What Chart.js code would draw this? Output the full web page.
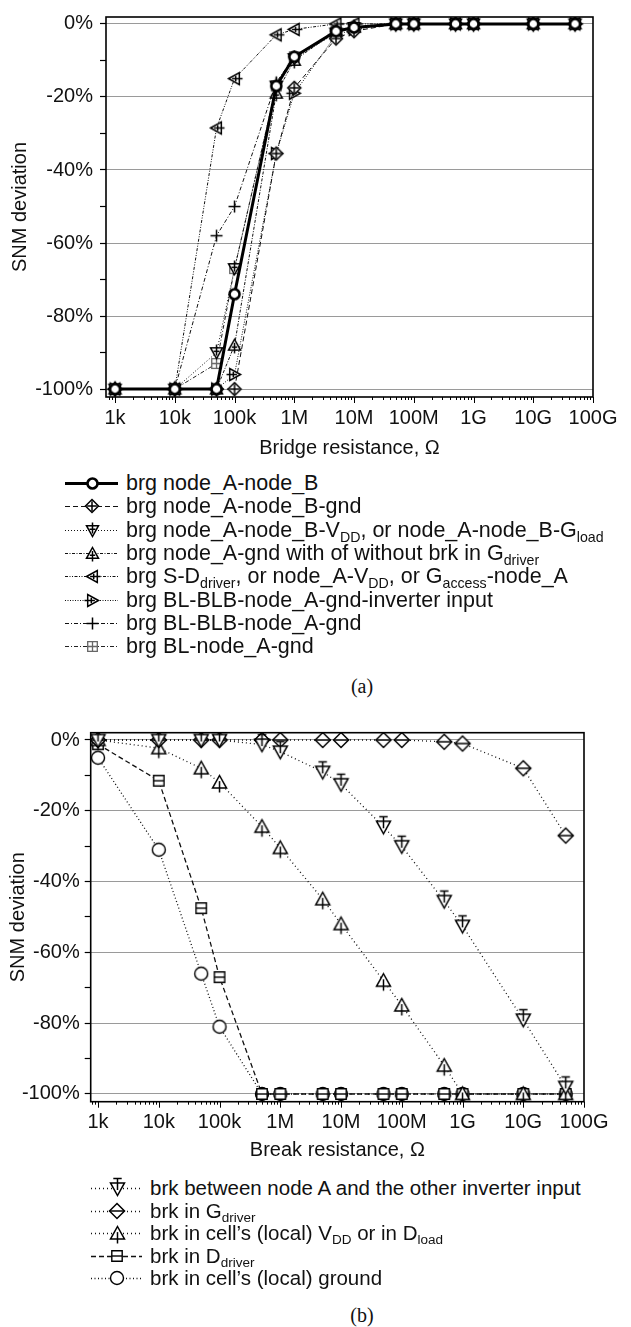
<!DOCTYPE html>
<html>
<head>
<meta charset="utf-8">
<script src="https://cdn.jsdelivr.net/npm/chart.js@4.4.1/dist/chart.umd.min.js"></script>
<style>
  html, body { margin: 0; padding: 0; background: #fff; }
  body { width: 631px; height: 1327px; position: relative; overflow: hidden;
         font-family: "Liberation Sans", Arial, sans-serif; color: #111; }
  .plot { position: absolute; left: 0; }
  .row { position: absolute; height: 24px; white-space: nowrap; }
  .row canvas { position: absolute; left: 0; top: 0; }
  .row span { position: absolute; top: 0; line-height: 24px; }
  .row sub { font-size: 66%; line-height: 0; vertical-align: -0.32em; }
  .cap { position: absolute; font-family: "Liberation Serif", "Times New Roman", serif;
         font-size: 20px; transform: translate(-50%, -50%); }
</style>
</head>
<body>
<div class="plot" style="top:0"><canvas id="bridge" width="631" height="470"></canvas></div>
<div id="legendA"></div>
<div class="cap" style="left:362px; top:686px">(a)</div>
<div class="plot" style="top:700px"><canvas id="brk" width="631" height="470"></canvas></div>
<div id="legendB"></div>
<div class="cap" style="left:362px; top:1315px">(b)</div>

<script>
// ---- resistance values (ohms) ----
const bridgeOhms = [1e3, 1e4, 5e4, 1e5, 5e5, 1e6, 5e6, 1e7, 5e7, 1e8, 5e8, 1e9, 1e10, 5e10];
const breakOhms  = [1e3, 1e4, 5e4, 1e5, 5e5, 1e6, 5e6, 1e7, 5e7, 1e8, 5e8, 1e9, 1e10, 5e10];

// ---- SNM deviation (%) for bridge defects ----
const brgNodeANodeB      = [-100, -100, -100, -74, -17, -9, -2, -1, 0, 0, 0, 0, 0, 0];
const brgNodeANodeBGnd   = [-100, -100, -100, -100, -35.5, -17.5, -4, -2, 0, 0, 0, 0, 0, 0];
const brgNodeANodeBVdd   = [-100, -100, -90, -67, -17, -9.5, -2.5, -1, 0, 0, 0, 0, 0, 0];
const brgNodeAGnd        = [-100, -100, -100, -88, -19, -10, -2, -1, 0, 0, 0, 0, 0, 0];
const brgSDdriver        = [-100, -100, -28.5, -15, -3, -1.5, 0, 0, 0, 0, 0, 0, 0, 0];
const brgBlBlbInvInput   = [-100, -100, -100, -96, -35.5, -19, -3, -1.5, 0, 0, 0, 0, 0, 0];
const brgBlBlbNodeAGnd   = [-100, -100, -58, -50, -16, -9, -2, -1, 0, 0, 0, 0, 0, 0];
const brgBlNodeAGnd      = [-100, -100, -93, -67, -17, -9, -2, -1, 0, 0, 0, 0, 0, 0];

// ---- SNM deviation (%) for break defects ----
const brkInverterInput = [0, 0, 0, 0, -1.3, -3.3, -9, -12.5, -24.5, -30, -45.5, -52.5, -79, -98];
const brkGdriver       = [0, 0, 0, 0, 0, 0, 0, 0, 0, 0, -0.5, -1, -8, -27];
const brkVddDload      = [0, -2.3, -8, -12, -24.5, -30.5, -45, -52, -68, -75, -92, -100, -100, -100];
const brkDdriver       = [-1.2, -11.5, -47.5, -67, -100, -100, -100, -100, -100, -100, -100, -100, -100, -100];
const brkGround        = [-5, -31, -66, -81, -100, -100, -100, -100, -100, -100, -100, -100, -100, -100];

// ---- axis ticks ----
const decadeTicks  = [1e3, 1e4, 1e5, 1e6, 1e7, 1e8, 1e9, 1e10, 1e11];
const decadeLabels = ['1k', '10k', '100k', '1M', '10M', '100M', '1G', '10G', '100G'];
const pctTicks     = [-100, -90, -80, -70, -60, -50, -40, -30, -20, -10, 0];

// ---- series labels ----
const bridgeNames = [
  'brg node_A-node_B',
  'brg node_A-node_B-gnd',
  'brg node_A-node_B-V<sub>DD</sub>, or node_A-node_B-G<sub>load</sub>',
  'brg node_A-gnd with of without brk in G<sub>driver</sub>',
  'brg S-D<sub>driver</sub>, or node_A-V<sub>DD</sub>, or G<sub>access</sub>-node_A',
  'brg BL-BLB-node_A-gnd-inverter input',
  'brg BL-BLB-node_A-gnd',
  'brg BL-node_A-gnd'
];
const breakNames = [
  'brk between node A and the other inverter input',
  'brk in G<sub>driver</sub>',
  'brk in cell\u2019s (local) V<sub>DD</sub> or in D<sub>load</sub>',
  'brk in D<sub>driver</sub>',
  'brk in cell\u2019s (local) ground'
];

const INK = '#000';
Chart.defaults.font.family = '"Liberation Sans", Arial, sans-serif';
Chart.defaults.color = '#111';

// Small canvases used as point symbols.
function marker(shape, size, lw, stroke, inner) {
  const S = Math.ceil(size) + 11;
  const c = document.createElement('canvas');
  c.width = c.height = S;
  const g = c.getContext('2d');
  g.translate(S / 2, S / 2);
  g.lineWidth = lw; g.strokeStyle = stroke; g.fillStyle = '#fff';
  g.lineJoin = 'miter';
  const h = size / 2;
  g.beginPath();
  if (shape === 'circle') g.arc(0, 0, h, 0, Math.PI * 2);
  else if (shape === 'diamond') { g.moveTo(0, -h); g.lineTo(h, 0); g.lineTo(0, h); g.lineTo(-h, 0); g.closePath(); }
  else if (shape === 'triDown') { g.moveTo(-h, -h * 0.8); g.lineTo(h, -h * 0.8); g.lineTo(0, h); g.closePath(); }
  else if (shape === 'triUp') { g.moveTo(0, -h); g.lineTo(h, h * 0.8); g.lineTo(-h, h * 0.8); g.closePath(); }
  else if (shape === 'triLeft') { g.moveTo(-h, 0); g.lineTo(h * 0.8, -h); g.lineTo(h * 0.8, h); g.closePath(); }
  else if (shape === 'triRight') { g.moveTo(h, 0); g.lineTo(-h * 0.8, -h); g.lineTo(-h * 0.8, h); g.closePath(); }
  else if (shape === 'square') { g.rect(-h * 0.8, -h * 0.8, h * 1.6, h * 1.6); }
  if (shape !== 'plus') { g.fill(); g.stroke(); }
  g.beginPath();
  if (shape === 'plus' || inner === 'plus') {
    const k = shape === 'plus' ? h : h * 0.75;
    g.moveTo(-k, 0); g.lineTo(k, 0); g.moveTo(0, -k); g.lineTo(0, k);
  }
  if (inner === 'h') { g.moveTo(-h, 0); g.lineTo(h, 0); }
  if (inner === 'hq') { g.moveTo(-h * 0.8, 0); g.lineTo(h * 0.8, 0); }
  if (inner === 'stemDown') { g.moveTo(0, -h - 3); g.lineTo(0, h * 0.2); g.moveTo(-h * 0.6, -h - 3); g.lineTo(h * 0.6, -h - 3); }
  if (inner === 'stemUp') { g.moveTo(0, -h * 0.2); g.lineTo(0, h + 3); }
  if (inner === 'vplus') { g.moveTo(0, -h - 2); g.lineTo(0, h * 0.5); g.moveTo(-h * 0.5, -h * 0.2); g.lineTo(h * 0.5, -h * 0.2); }
  if (inner === 'uplus') { g.moveTo(0, -h * 0.4); g.lineTo(0, h + 2); g.moveTo(-h * 0.45, h * 0.3); g.lineTo(h * 0.45, h * 0.3); }
  if (inner === 'lplus') { g.moveTo(-h * 0.4, 0); g.lineTo(h + 2, 0); g.moveTo(h * 0.2, -h * 0.45); g.lineTo(h * 0.2, h * 0.45); }
  if (inner === 'rplus') { g.moveTo(-h - 2, 0); g.lineTo(h * 0.4, 0); g.moveTo(-h * 0.2, -h * 0.45); g.lineTo(-h * 0.2, h * 0.45); }
  g.stroke();
  return c;
}

const bridgeValues = [brgNodeANodeB, brgNodeANodeBGnd, brgNodeANodeBVdd, brgNodeAGnd,
                      brgSDdriver, brgBlBlbInvInput, brgBlBlbNodeAGnd, brgBlNodeAGnd];
const bridgeStyle = [
  { w: 3,   dash: [],                  color: '#000', pt: marker('circle', 10, 2.6, INK) },
  { w: 1,   dash: [5, 3],              color: '#111', pt: marker('diamond', 13, 1.5, INK, 'plus') },
  { w: 1,   dash: [1, 2],              color: '#111', pt: marker('triDown', 12, 1.5, INK, 'vplus') },
  { w: 1,   dash: [3, 1.5, 1, 1.5],    color: '#111', pt: marker('triUp', 12, 1.5, INK, 'uplus') },
  { w: 1,   dash: [3, 1.5, 1, 1.5, 1, 1.5], color: '#111', pt: marker('triLeft', 12, 1.5, INK, 'lplus') },
  { w: 1,   dash: [1, 1.5],            color: '#111', pt: marker('triRight', 12, 1.5, INK, 'rplus') },
  { w: 1,   dash: [4, 2, 1, 2],        color: '#111', pt: marker('plus', 12, 1.5, INK) },
  { w: 1,   dash: [4, 2, 1, 2],        color: '#222', pt: marker('square', 12, 1.3, '#666', 'plus') }
];

const breakValues = [brkInverterInput, brkGdriver, brkVddDload, brkDdriver, brkGround];
const breakStyle = [
  { w: 1.3, dash: [1, 3],   color: '#111', pt: marker('triDown', 14, 1.5, INK, 'stemDown') },
  { w: 1.3, dash: [1, 3],   color: '#111', pt: marker('diamond', 15, 1.5, INK, 'h') },
  { w: 1.3, dash: [1, 3],   color: '#111', pt: marker('triUp', 14, 1.5, INK, 'stemUp') },
  { w: 1.3, dash: [5, 3],   color: '#111', pt: marker('square', 13, 1.4, INK, 'hq') },
  { w: 1.3, dash: [1, 2.5], color: '#111', pt: marker('circle', 13, 1.4, INK) }
];

// Plot frame plus logarithmic minor ticks along the x axis.
const framePlugin = {
  id: 'frame',
  afterDraw(chart) {
    const { ctx, chartArea: a, scales: { x } } = chart;
    ctx.save();
    ctx.setLineDash([]);
    ctx.strokeStyle = INK;
    ctx.lineWidth = 1;
    for (let e = 2; e <= 11; e++) {
      for (let m = 1; m <= 9; m++) {
        const v = m * Math.pow(10, e);
        if (v < x.min * 0.999 || v > x.max * 1.001) continue;
        const px = Math.round(x.getPixelForValue(v)) + 0.5;
        ctx.beginPath();
        ctx.moveTo(px, a.bottom);
        ctx.lineTo(px, a.bottom + (m === 1 ? 6 : 3));
        ctx.stroke();
      }
    }
    ctx.lineWidth = 1.6;
    ctx.strokeRect(a.left, a.top, a.right - a.left, a.bottom - a.top);
    ctx.restore();
  }
};

function buildChart(id, xs, values, styles, geo) {
  return new Chart(document.getElementById(id), {
    type: 'line',
    data: {
      datasets: values.map((vals, i) => ({
        data: xs.map((x, j) => ({ x: x, y: vals[j] })),
        borderColor: styles[i].color,
        borderWidth: styles[i].w,
        borderDash: styles[i].dash,
        pointStyle: styles[i].pt,
        pointRadius: 5,
        tension: 0,
        fill: false
      }))
    },
    options: {
      responsive: false,
      animation: false,
      devicePixelRatio: 1,
      layout: { padding: { top: geo.top, right: geo.right, left: 0, bottom: 0 } },
      plugins: { legend: { display: false }, tooltip: { enabled: false } },
      scales: {
        x: {
          type: 'logarithmic',
          min: geo.xmin, max: 1e11,
          afterBuildTicks: s => { s.ticks = decadeTicks.map(v => ({ value: v })); },
          afterFit: s => { s.height = geo.xh; },
          ticks: {
            autoSkip: false, maxRotation: 0, padding: 11,
            font: { size: 20, lineHeight: 1 },
            callback: (v, i) => decadeLabels[i]
          },
          grid: { display: false, drawTicks: false },
          border: { display: false },
          title: { display: true, text: geo.xTitle, font: { size: 20 }, padding: { top: 0, bottom: geo.xtp } }
        },
        y: {
          min: geo.ymin, max: geo.ymax,
          afterBuildTicks: s => { s.ticks = pctTicks.map(v => ({ value: v })); },
          afterFit: s => { s.width = geo.yw; },
          ticks: {
            padding: geo.ypad,
            font: { size: 20, lineHeight: 1 },
            callback: v => (v % 20 === 0 ? v + '%' : '')
          },
          grid: {
            drawTicks: true, tickLength: 6,
            color: c => (c.tick && c.tick.value % 20 === 0 ? '#9a9a9a' : 'rgba(0,0,0,0)'),
            tickColor: INK, tickWidth: 1.2,
            lineWidth: 1,
            borderDash: [1, 2],
            tickBorderDash: []
          },
          border: { display: false },
          title: { display: true, text: 'SNM deviation', font: { size: 20 }, padding: { top: geo.ytp, bottom: 0 } }
        }
      }
    },
    plugins: [framePlugin]
  });
}

buildChart('bridge', bridgeOhms, bridgeValues, bridgeStyle, {
  top: 11, right: 38, yw: 106, xh: 73, xmin: 706, ymin: -102.16, ymax: 1.89,
  ypad: 7, ytp: 8, xtp: 10, xTitle: 'Bridge resistance, \u03A9'
});
buildChart('brk', breakOhms, breakValues, breakStyle, {
  top: 32.7, right: 47, yw: 90.7, xh: 68.3, xmin: 758, ymin: -102.18, ymax: 2.06,
  ypad: 5, ytp: 6, xtp: 8, xTitle: 'Break resistance, \u03A9'
});

// Legend rows: line sample with symbol, then the label.
function legend(hostId, names, styles, geo) {
  const host = document.getElementById(hostId);
  names.forEach((name, i) => {
    const cy = geo.y0 + i * geo.step;
    const row = document.createElement('div');
    row.className = 'row';
    row.style.left = geo.x0 + 'px';
    row.style.top = (cy - 12) + 'px';
    const cv = document.createElement('canvas');
    cv.width = geo.w; cv.height = 24;
    const g = cv.getContext('2d');
    const st = styles[i];
    g.strokeStyle = st.color; g.lineWidth = st.w; g.setLineDash(st.dash);
    const ly = Math.round(st.w) % 2 ? 12.5 : 12;
    g.beginPath(); g.moveTo(3, ly); g.lineTo(geo.w - 3, ly); g.stroke();
    const mx = geo.mx - geo.x0;
    g.drawImage(st.pt, Math.round(mx - st.pt.width / 2), Math.round(12 - st.pt.height / 2));
    row.appendChild(cv);
    const sp = document.createElement('span');
    sp.style.left = (geo.tx - geo.x0) + 'px';
    sp.style.fontSize = geo.fs + 'px';
    sp.innerHTML = name;
    row.appendChild(sp);
    host.appendChild(row);
  });
}

legend('legendA', bridgeNames, bridgeStyle, { y0: 483, step: 23.3, x0: 62, w: 59, mx: 92, tx: 126, fs: 21.5 });
legend('legendB', breakNames, breakStyle, { y0: 1188, step: 22.5, x0: 88, w: 57, mx: 117, tx: 150, fs: 20.5 });
</script>
</body>
</html>
